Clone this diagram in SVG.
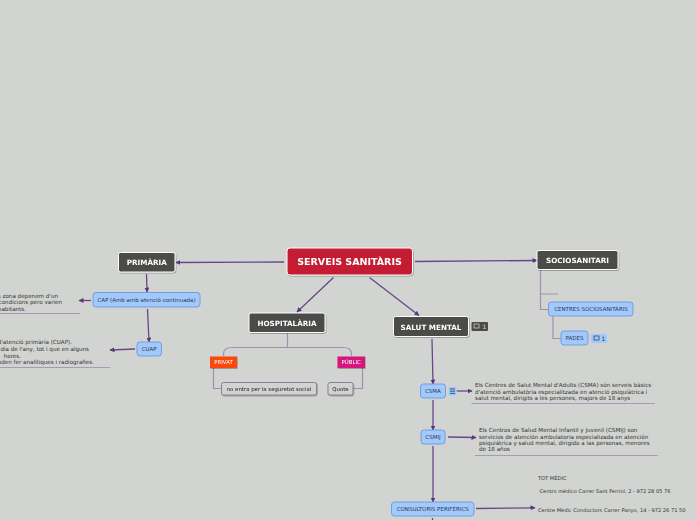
<svg xmlns="http://www.w3.org/2000/svg" width="696" height="520" viewBox="0 0 696 520">
<style>
text{font-family:"DejaVu Sans","Liberation Sans",sans-serif;}
.main rect{fill:#4c4b49;stroke:#fff;stroke-width:1;}
.main text{fill:#fff;font-size:7.2px;font-weight:bold;text-anchor:middle;}
.sub rect{fill:#a3c9fb;stroke:#6f9fe0;stroke-width:1;}
.sub text{fill:#24375c;font-size:5.5px;text-anchor:middle;}
.tag rect{stroke:none;}
.tag text{fill:#fff;font-size:5.4px;text-anchor:middle;}
.gray rect{fill:#d3d2d3;stroke:#8a7f95;stroke-width:1;}
.gray text{fill:#222;font-size:5.4px;text-anchor:middle;}
.note{fill:#333;font-size:5.6px;}
.end text{text-anchor:end;}
.tot{fill:#333;font-size:5.1px;}
.ln{fill:none;stroke:#6a4688;stroke-width:1.3;}
.lt{fill:none;stroke:#a08fb3;stroke-width:1.2;}
.ul{fill:none;stroke:#a79ab5;stroke-width:1.2;}
</style>
<defs>
<marker id="a" markerUnits="userSpaceOnUse" markerWidth="6" markerHeight="6" refX="4.5" refY="2.5" orient="auto"><path d="M0 0L5 2.5L0 5Z" fill="#5d3480"/></marker>
<filter id="s" x="-10%" y="-20%" width="120%" height="150%"><feDropShadow dx="0.6" dy="0.8" stdDeviation="0.5" flood-color="#000" flood-opacity="0.35"/></filter>
</defs>
<rect width="696" height="520" fill="#d2d4d1"/>
<g id="connectors">
<path class="ln" marker-end="url(#a)" d="M284 262L176 262.500"/>
<path class="ln" marker-end="url(#a)" d="M415 261.500L537 260.500"/>
<path class="ln" marker-end="url(#a)" d="M333.500 277.500L297 312"/>
<path class="ln" marker-end="url(#a)" d="M369.500 277.500L419 315.500"/>
<path class="ln" marker-end="url(#a)" d="M146.500 274L147 292"/>
<path class="ln" marker-end="url(#a)" d="M147.500 309L149 342"/>
<path class="ln" marker-end="url(#a)" d="M91 300.500L79 300.500"/>
<path class="ln" marker-end="url(#a)" d="M135 349L110 350"/>
<path class="ln" marker-end="url(#a)" d="M432 339L433 384"/>
<path class="ln" marker-end="url(#a)" d="M433 400L433 430"/>
<path class="ln" marker-end="url(#a)" d="M433 446L433 502"/>
<path class="ln" marker-end="url(#a)" d="M456.500 391L472 391"/>
<path class="ln" marker-end="url(#a)" d="M448 437L476 437.500"/>
<path class="ln" marker-end="url(#a)" d="M476 508.500L535 507.800"/>
<path class="ln" d="M432.500 518L432.500 520"/>
<path class="lt" d="M287.500 333V347"/>
<path class="lt" d="M223.500 356V354Q223.500 347.500 232 347.500H343Q351.500 347.500 351.500 354V356"/>
<path class="lt" d="M213.500 368V388.500H221"/>
<path class="lt" d="M362.500 368V388.500H353"/>
<path class="lt" d="M540.500 270V294H558"/>
<path class="lt" d="M540.500 294V309.500H548"/>
<path class="lt" d="M553 316V338.500H561"/>
<path class="ul" d="M0 313.500H80"/>
<path class="ul" d="M0 367.500H110"/>
<path class="ul" d="M471.500 403.500H655"/>
<path class="ul" d="M475 455.500H658"/>
</g>
<g id="root" filter="url(#s)"><rect x="287" y="248" width="125.500" height="27" rx="3" fill="#c41e32" stroke="#fff" stroke-width="1"/><text x="349.500" y="265" fill="#fff" font-size="9.500" font-weight="bold" text-anchor="middle">SERVEIS SANITÀRIS</text></g>
<g id="primaria" class="main" filter="url(#s)"><rect x="118.500" y="252.500" width="56.500" height="19.500" rx="2"/><text x="146.800" y="265">PRIMÀRIA</text></g>
<g id="hospitalaria" class="main" filter="url(#s)"><rect x="249" y="313" width="76" height="19.500" rx="2"/><text x="287" y="325.500">HOSPITALÀRIA</text></g>
<g id="salut-mental" class="main" filter="url(#s)"><rect x="393.500" y="316.500" width="75" height="20" rx="2"/><text x="431" y="329.500">SALUT MENTAL</text></g>
<g id="sociosanitari" class="main" filter="url(#s)"><rect x="537" y="250.500" width="81" height="19" rx="2"/><text x="577.500" y="262.500">SOCIOSANITARI</text></g>
<g id="cap" class="sub"><rect x="93" y="292.500" width="107" height="14.500" rx="3"/><text x="146.500" y="302">CAP (Amb amb atenció continuada)</text></g>
<g id="cuap" class="sub"><rect x="137" y="342" width="24.500" height="14" rx="3"/><text x="149.200" y="351">CUAP</text></g>
<g id="privat" class="tag" filter="url(#s)"><rect x="210" y="356.500" width="27" height="11.500" fill="#fb4a09"/><text x="223.500" y="364.200">PRIVAT</text></g>
<g id="public" class="tag" filter="url(#s)"><rect x="337.500" y="356.500" width="27.500" height="11.500" fill="#d5177f"/><text x="351.200" y="364.200">PÚBLIC</text></g>
<g id="no-entra" class="gray" filter="url(#s)"><rect x="221.500" y="382.500" width="95" height="12.500" rx="2"/><text x="269" y="391">no entra per la seguretat social</text></g>
<g id="quote" class="gray" filter="url(#s)"><rect x="328" y="382.500" width="25" height="12.500" rx="2"/><text x="340.500" y="391">Quote</text></g>
<g id="centres" class="sub"><rect x="548.500" y="302" width="84.500" height="14" rx="3"/><text x="591" y="311">CENTRES SOCIOSANITÀRIS</text></g>
<g id="pades" class="sub"><rect x="561" y="331" width="27" height="14" rx="3"/><text x="574.500" y="340">PADES</text></g>
<g id="csma" class="sub"><rect x="420.500" y="384" width="25" height="14" rx="3"/><text x="432.800" y="393">CSMA</text></g>
<g id="csmij" class="sub"><rect x="421" y="430" width="24" height="14" rx="3"/><text x="433" y="439">CSMIJ</text></g>
<g id="consultoris" class="sub"><rect x="391.500" y="502" width="82.500" height="14" rx="3"/><text x="432.700" y="511">CONSULTORIS PERIFÈRICS</text></g>
<g id="badge-salut"><rect x="471.500" y="322" width="16.500" height="9" rx="1" fill="#4c4b49"/><rect x="474" y="324" width="5" height="4" fill="none" stroke="#ddd" stroke-width=".7"/><text x="484.500" y="329.200" fill="#ddd" font-size="6px" text-anchor="middle">1</text></g>
<g id="badge-pades"><rect x="591" y="334" width="16" height="9" rx="1" fill="#a3c9fb"/><rect x="594" y="336" width="5" height="4" fill="none" stroke="#24375c" stroke-width=".7"/><text x="603.500" y="341.200" fill="#24375c" font-size="6px" text-anchor="middle">1</text></g>
<g id="badge-csma"><rect x="448.500" y="387" width="8" height="8.500" rx="1" fill="#a3c9fb"/><path d="M450 389H455M450 391.200H455M450 393.400H455" stroke="#24375c" stroke-width=".8"/></g>
<g id="note-cap" class="note end"><text x="58" y="297.500">s zona depenem d'un</text><text x="62" y="304">condicions pero varien</text><text x="26" y="310.500">habitants.</text></g>
<g id="note-cuap" class="note end"><text x="72" y="344">d'atenció primària (CUAP).</text><text x="89" y="351">dia de l'any, tot i que en alguns</text><text x="21" y="357.500">hores.</text><text x="94" y="364">poden fer analítiques i radiografies.</text></g>
<g id="note-csma" class="note"><text x="475" y="387">Els Centres de Salut Mental d'Adults (CSMA) són serveis bàsics</text><text x="475" y="393.500">d'atenció ambulatòria especialitzada en atenció psiquiàtrica i</text><text x="475" y="400">salut mental, dirigits a les persones, majors de 18 anys</text></g>
<g id="note-csmij" class="note"><text x="479" y="432">Els Centros de Salud Mental Infantil y Juvenil (CSMIJ) son</text><text x="479" y="438.500">servicios de atención ambulatoria especializada en atención</text><text x="479" y="445">psiquiátrica y salud mental, dirigido a las personas, menores</text><text x="479" y="451">de 18 años</text></g>
<g id="note-tot" class="tot"><text x="538" y="480">TOT MÈDIC</text><text x="539.500" y="493">Centro médico Carrer Sant Ferriol, 2 - 972 28 05 76</text><text x="538" y="512">Centre Mèdic Conductors Carrer Panyo, 14 - 972 26 71 50</text></g>
</svg>
